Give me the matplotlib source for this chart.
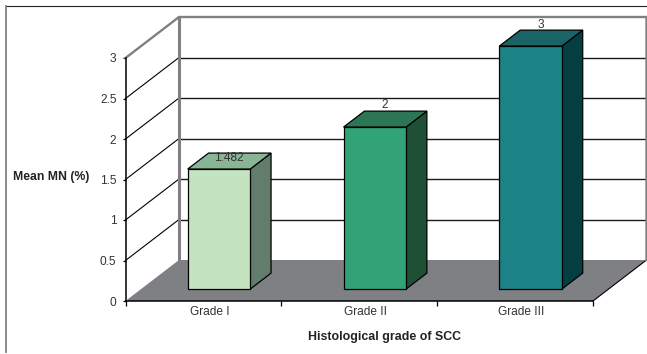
import matplotlib
matplotlib.use('Agg')
import matplotlib.pyplot as plt
from matplotlib.patches import Polygon

grades = ['Grade I', 'Grade II', 'Grade III']
mean_mn = [1.482, 2, 3]
value_labels = ['1.482', '2', '3']
yticks = [0, 0.5, 1, 1.5, 2, 2.5, 3]
ytick_labels = ['0', '0.5', '1', '1.5', '2', '2.5', '3']
front_colors = ['#c4e3c0', '#32a377', '#1b8286']
top_colors = ['#87b596', '#2c7655', '#1a6467']
side_colors = ['#627d6c', '#1f4f35', '#033f41']

W, H = 647, 354
plt.rcParams['font.family'] = ['Liberation Sans', 'DejaVu Sans']

fig = plt.figure(figsize=(W / 100, H / 100), dpi=100)

# axes box is the front plane of the 3d box, everything else hangs off it
x0, x1, y0, y3 = 125.5, 593.0, 301.0, 58.0
ax = fig.add_axes([x0 / W, 1 - y0 / H, (x1 - x0) / W, (y0 - y3) / H])
ax.set_xlim(0, 3)
ax.set_ylim(0, 3)
ax.patch.set_alpha(0)
for s in ['top', 'right']:
    ax.spines[s].set_visible(False)
for s in ['left', 'bottom']:
    ax.spines[s].set_linewidth(1.1)
    ax.spines[s].set_zorder(6)

# depth of the box and of the bars in data units
dx = 53.5 / ((x1 - x0) / 3)
dy = 41.0 / ((y0 - y3) / 3)
bar_start = 0.29
bar_depth = 0.39
bar_w = 62.5 / ((x1 - x0) / 3)
label_shift = [-5, 6, 5]  # pixels above the back edge of each bar top


def project(x, y, d):
    return (x + d * dx, y + d * dy)


def add_poly(pts, **kw):
    p = Polygon(pts, closed=True, clip_on=False, **kw)
    ax.add_patch(p)
    return p


# floor
add_poly([project(0, 0, 0), project(0, 0, 1), project(3, 0, 1), project(3, 0, 0)],
         facecolor='#7f8083', edgecolor='none', zorder=1)
ax.plot(*zip(project(3, 0, 0), project(3, 0, 1)), color='black', lw=0.8, clip_on=False, zorder=2)

# grid on the back and side walls
for v in yticks[1:-1]:
    ax.plot(*zip(project(0, v, 0), project(0, v, 1)), color='black', lw=0.8, clip_on=False, zorder=2)
    ax.plot(*zip(project(0, v, 1), project(3, v, 1)), color='#1a1a1a', lw=1.0, clip_on=False, zorder=2)

# gray wall outline
wall = '#808083'
ax.plot(*zip(project(0, 3, 0), project(0, 3, 1), project(3, 3, 1), project(3, 0, 1)),
        color=wall, lw=1.7, clip_on=False, zorder=3, solid_joinstyle='miter')
ax.plot(*zip(project(0, 0, 1), project(0, 3, 1)), color=wall, lw=2.2, clip_on=False, zorder=3)

# bars
for i, v in enumerate(mean_mn):
    left = i + 0.5 - bar_w / 2
    right = left + bar_w
    a, b = bar_start, bar_start + bar_depth
    edge = dict(edgecolor='black', linewidth=0.9, joinstyle='miter', zorder=4)
    add_poly([project(right, 0, a), project(right, 0, b), project(right, v, b), project(right, v, a)],
             facecolor=side_colors[i], **edge)
    add_poly([project(left, v, a), project(left, v, b), project(right, v, b), project(right, v, a)],
             facecolor=top_colors[i], **edge)
    add_poly([project(left, 0, a), project(right, 0, a), project(right, v, a), project(left, v, a)],
             facecolor=front_colors[i], **edge)
    # label sits over the middle of the bar width, at the rear of the top face
    lx = project(i + 0.5, v, (a + b) / 2)[0]
    ly = project(i + 0.5, v, b)[1]
    ax.annotate(value_labels[i], (lx, ly), xytext=(0, label_shift[i]), textcoords='offset pixels',
                ha='center', va='center', fontsize=8.6, color='#333333', zorder=5,
                annotation_clip=False)

ax.set_yticks(yticks)
ax.set_yticklabels(ytick_labels, fontsize=8.6, color='#333333')
ax.tick_params(axis='y', length=2.5, width=0.9, pad=4)
ax.set_xticks([0, 1, 2, 3])
ax.set_xticklabels([])
ax.tick_params(axis='x', length=3.6, width=0.9)

for i, g in enumerate(grades):
    ax.annotate(g, (i + 0.5, 0), xytext=(6, -11), textcoords='offset pixels',
                ha='center', va='center', fontsize=8.6, color='#333333', annotation_clip=False)

# axis titles and the panel border
fig.text(51 / W, 1 - 177 / H, 'Mean MN (%)', ha='center', va='center',
         fontsize=8.8, fontweight='bold', color='#222222')
fig.text(384.5 / W, 1 - 337 / H, 'Histological grade of SCC', ha='center', va='center',
         fontsize=8.9, fontweight='bold', color='#222222')
fig.add_artist(plt.Line2D([6 / W, 1], [1 - 6.3 / H] * 2, color='#222222', lw=0.8))
fig.add_artist(plt.Line2D([6.3 / W] * 2, [1 - 6 / H, 0.005], color='#808083', lw=1.3))

fig.savefig('out.png', dpi=100)
